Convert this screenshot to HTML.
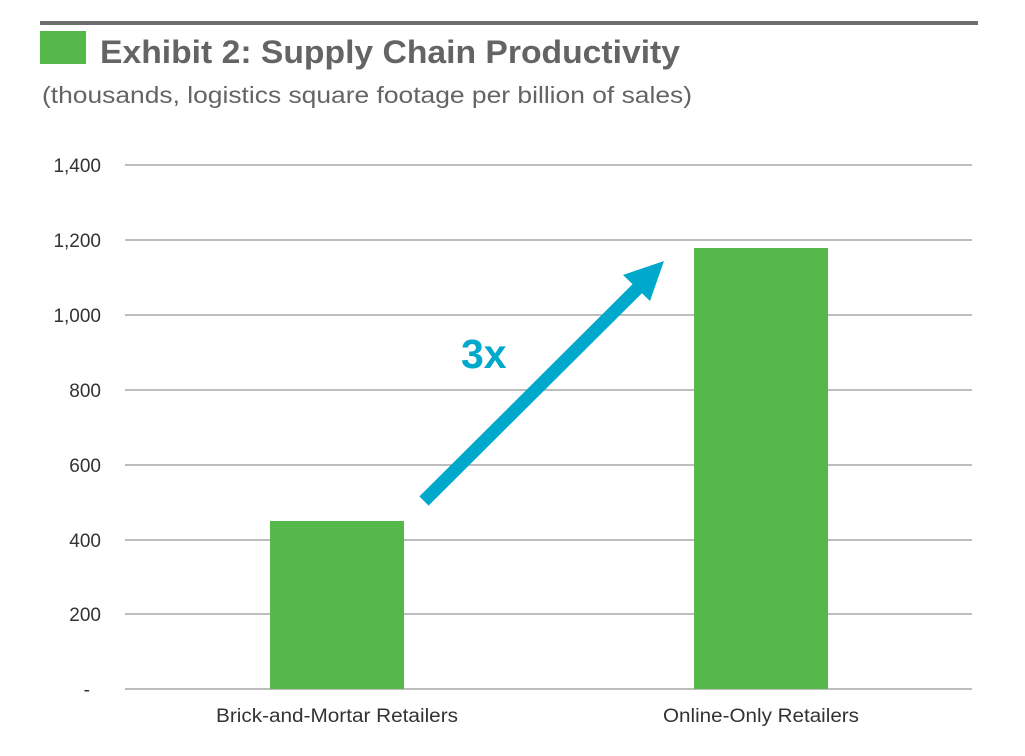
<!DOCTYPE html>
<html><head><meta charset="utf-8"><style>body{margin:0;background:#fff}svg{display:block}</style></head><body>
<svg width="1025" height="756" xmlns="http://www.w3.org/2000/svg" font-family="Liberation Sans, sans-serif">
<rect x="40" y="21" width="938" height="4" fill="#6d6e70"/>
<rect x="40" y="31" width="46" height="33" fill="#55b84a"/>
<text x="100" y="63" font-size="32" font-weight="bold" fill="#636466" textLength="580" lengthAdjust="spacingAndGlyphs">Exhibit 2: Supply Chain Productivity</text>
<text x="42" y="103" font-size="23" fill="#636466" textLength="650" lengthAdjust="spacingAndGlyphs">(thousands, logistics square footage per billion of sales)</text>
<g stroke="#a7a7a7" stroke-width="1.5">
<line x1="125" x2="972" y1="165" y2="165"/><line x1="125" x2="972" y1="240" y2="240"/>
<line x1="125" x2="972" y1="315" y2="315"/><line x1="125" x2="972" y1="390" y2="390"/>
<line x1="125" x2="972" y1="465" y2="465"/><line x1="125" x2="972" y1="540" y2="540"/>
<line x1="125" x2="972" y1="614" y2="614"/><line x1="125" x2="972" y1="689" y2="689"/>
</g>
<g font-size="19" fill="#333" text-anchor="end">
<text x="101" y="172">1,400</text><text x="101" y="247">1,200</text><text x="101" y="322">1,000</text>
<text x="101" y="397">800</text><text x="101" y="472">600</text><text x="101" y="547">400</text>
<text x="101" y="621">200</text><text x="90" y="696">-</text>
</g>
<rect x="270" y="521" width="134" height="168" fill="#55b84a"/>
<rect x="694" y="248" width="134" height="441" fill="#55b84a"/>
<g font-size="19" fill="#333" text-anchor="middle">
<text x="337" y="722" textLength="242" lengthAdjust="spacingAndGlyphs">Brick-and-Mortar Retailers</text>
<text x="761" y="722" textLength="196" lengthAdjust="spacingAndGlyphs">Online-Only Retailers</text>
</g>
<line x1="424" y1="501" x2="645" y2="281" stroke="#00a8cb" stroke-width="13"/>
<polygon points="664,261 623,275 650,301" fill="#00a8cb"/>
<text x="461" y="368" font-size="41" font-weight="bold" fill="#00a8cb">3x</text>
</svg>
</body></html>
